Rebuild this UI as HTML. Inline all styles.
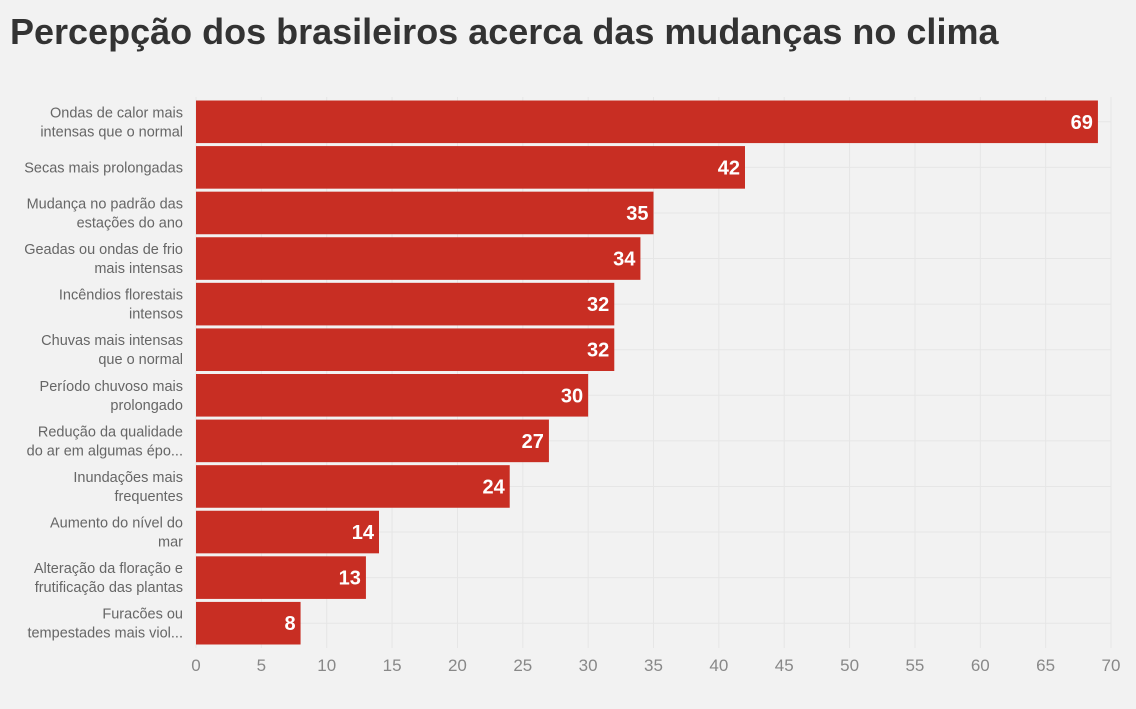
<!DOCTYPE html>
<html><head><meta charset="utf-8"><style>
body{margin:0;width:1136px;height:709px;background:#f2f2f2;overflow:hidden;font-family:"Liberation Sans",sans-serif}
h1{position:absolute;left:10px;top:11px;margin:0;font-size:36px;font-weight:bold;color:#333;letter-spacing:0px}
svg{position:absolute;left:0;top:0}
</style></head><body>
<h1>Percepção dos brasileiros acerca das mudanças no clima</h1>
<svg id="chart" width="1136" height="709"></svg>
<script>
const categories=[["Ondas de calor mais","intensas que o normal"],["Secas mais prolongadas"],["Mudança no padrão das","estações do ano"],["Geadas ou ondas de frio","mais intensas"],["Incêndios florestais","intensos"],["Chuvas mais intensas","que o normal"],["Período chuvoso mais","prolongado"],["Redução da qualidade","do ar em algumas épo..."],["Inundações mais","frequentes"],["Aumento do nível do","mar"],["Alteração da floração e","frutificação das plantas"],["Furacões ou","tempestades mais viol..."]];
const values=[69,42,35,34,32,32,30,27,24,14,13,8];
const ticks=[0,5,10,15,20,25,30,35,40,45,50,55,60,65,70];
const NS="http://www.w3.org/2000/svg";
const svg=document.getElementById('chart');
const x0=196,x1=1111,top0=99,bottom=646;
const band=(bottom-top0)/categories.length;
const xs=v=>x0+v/70*(x1-x0);
function mk(t,a){const e=document.createElementNS(NS,t);for(const k in a)e.setAttribute(k,a[k]);svg.appendChild(e);return e;}
ticks.forEach(t=>{
 const g=mk('line',{x1:xs(t),x2:xs(t),y1:top0-2,y2:bottom+2,stroke:'#e6e6e6','stroke-width':1});
 
 
 const l=mk('text',{x:xs(t),y:671,'text-anchor':'middle','font-size':17,fill:'#888'});
 l.textContent=t;
 
 
});
categories.forEach((c,i)=>{
 const cy=top0+band*i+band/2;
 const h=mk('line',{x1:x0,x2:x1,y1:cy,y2:cy,stroke:'#e6e6e6','stroke-width':1});
 
 
});
categories.forEach((c,i)=>{
 const y=top0+band*i+1.5, h=band-3, cy=y+h/2;
 const r=mk('rect',{x:x0,y:y,width:xs(values[i])-x0,height:h,fill:'#c82e23'});
 
 
 const v=mk('text',{x:xs(values[i])-5,y:cy+7,'text-anchor':'end','font-size':20,'font-weight':'bold',fill:'#fff'});
 v.textContent=values[i];
 
 
 const t=mk('text',{x:183,'text-anchor':'end','font-size':14.5,fill:'#666'});
 
 
 const n=c.length;
 c.forEach((line,j)=>{const s=document.createElementNS(NS,'tspan');s.setAttribute('x',183);s.setAttribute('y',cy+5+(j-(n-1)/2)*19);s.textContent=line;t.appendChild(s);});
});
</script>
</body></html>
